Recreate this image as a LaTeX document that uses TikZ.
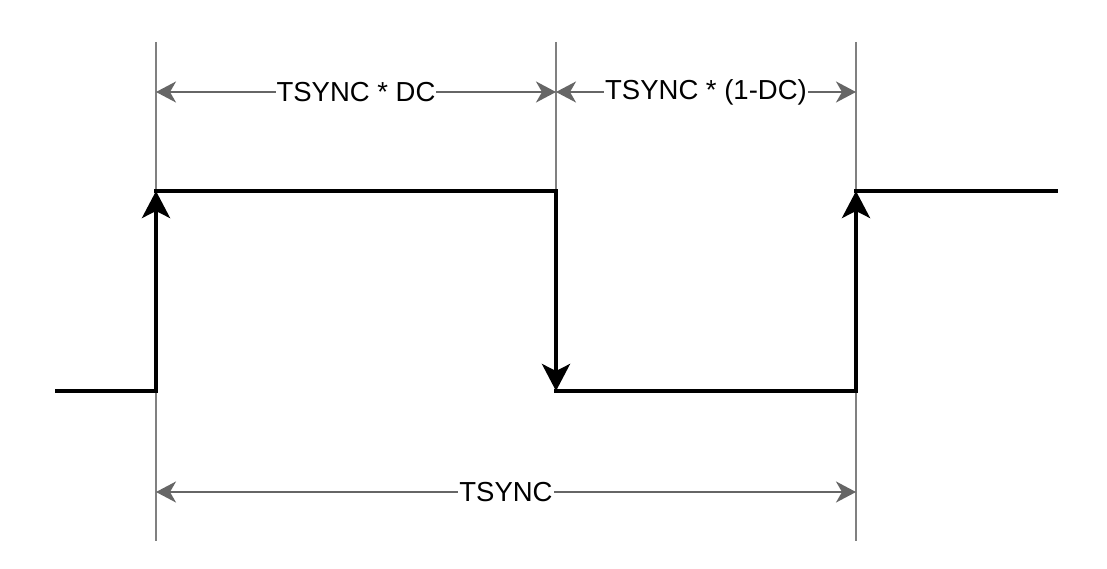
\documentclass[tikz,border=0pt]{standalone}
\usepackage{fontspec}
\setmainfont{Liberation Sans}
\usetikzlibrary{arrows.meta}
\definecolor{dimgray}{HTML}{666666}
\definecolor{guidegray}{HTML}{808080}
\tikzset{
  guide/.style={draw=guidegray, line width=2pt},
  dimline/.style={draw=dimgray, line width=2pt, {Stealth[length=20pt,width=21pt,inset=6pt]}-{Stealth[length=20pt,width=21pt,inset=6pt]}},
  sig/.style={draw=black, line width=4pt, line cap=rect},
  edge/.style={draw=black, line width=4pt, -{Stealth[length=27pt,width=28pt,inset=7pt]}},
  lbl/.style={fill=white, inner sep=1pt, font=\fontsize{27.5}{30}\selectfont, text=black}
}
\begin{document}
\begin{tikzpicture}[x=1pt,y=-1pt]
\useasboundingbox (0,0) rectangle (1107,569);
% guide coordinates
\coordinate (g1t) at (156,42);  \coordinate (g1b) at (156,541);
\coordinate (g2t) at (556,42);  \coordinate (g2b) at (556,191);
\coordinate (g3t) at (856,42);  \coordinate (g3b) at (856,541);
% signal coordinates
\coordinate (s0) at (57,391);
\coordinate (s1) at (156,391);
\coordinate (s2) at (156,191);
\coordinate (s3) at (556,191);
\coordinate (s4) at (556,391);
\coordinate (s5) at (856,391);
\coordinate (s6) at (856,191);
\coordinate (s7) at (1056,191);
% dimension coordinates
\coordinate (d1) at (156,92);
\coordinate (d2) at (556,92);
\coordinate (d3) at (856,92);
\coordinate (e1) at (156,492);
\coordinate (e2) at (856,492);
% guides
\draw[guide] (g1t) -- (g1b);
\draw[guide] (g2t) -- (g2b);
\draw[guide] (g3t) -- (g3b);
% signal
\draw[sig] (s0) -- (s1);
\draw[edge] (s1) -- (s2);
\draw[sig] (s2) -- (s3);
\draw[edge] (s3) -- (s4);
\draw[sig] (s4) -- (s5);
\draw[edge] (s5) -- (s6);
\draw[sig] (s6) -- (s7);
% dimensions
\draw[dimline] (d1) -- (d2) node[lbl, midway] (l1) {TSYNC * DC};
\draw[dimline] (d2) -- (d3) node[lbl, midway] (l2) {TSYNC * (1-DC)};
\draw[dimline] (e1) -- (e2) node[lbl, midway] (l3) {TSYNC};
\end{tikzpicture}
\end{document}
